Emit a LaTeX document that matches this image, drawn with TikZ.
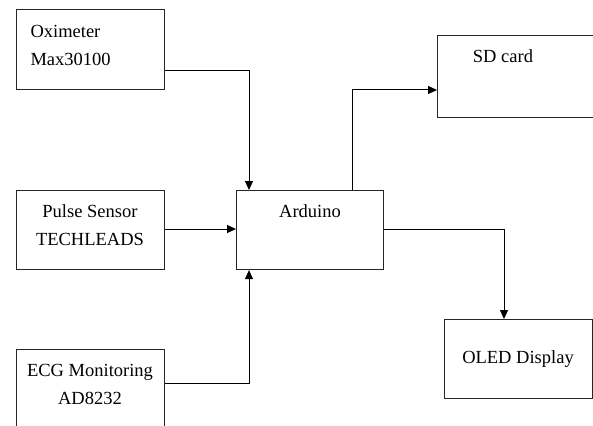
\documentclass[tikz,border=0pt]{standalone}
\usepackage{fontspec}
\setmainfont{Liberation Serif}
\usetikzlibrary{arrows.meta}
\begin{document}
\begin{tikzpicture}[x=1pt,y=-1pt,
  box/.style={draw=black!85,line width=1.1pt,rectangle,inner sep=0pt,anchor=north west},
  txt/.style={font=\fontsize{18.5}{28}\selectfont,align=center},
  conn/.style={line width=1pt,-{Triangle[length=9pt,width=8pt]}}]
\clip (0,0) rectangle (593,425);
\node[box,minimum width=148pt,minimum height=80pt] (oxi) at (16,9) {};
\node[txt,align=left,anchor=west] (oxit) at (27,45) {Oximeter\\Max30100};
\node[box,minimum width=148pt,minimum height=79pt] (pulse) at (16,190) {};
\node[txt] (pulset) at (90,225) {Pulse Sensor\\TECHLEADS};
\node[box,minimum width=148pt,minimum height=80pt] (ecg) at (16,349) {};
\node[txt] (ecgt) at (90,384) {ECG Monitoring\\AD8232};
\node[box,minimum width=147pt,minimum height=79pt] (ard) at (236,190) {};
\node[txt,anchor=center] (ardt) at (310,211) {Arduino};
\node[box,minimum width=160pt,minimum height=82pt] (sd) at (437,35) {};
\node[txt,anchor=center] (sdt) at (503,56) {SD card};
\node[box,minimum width=148pt,minimum height=79pt] (oled) at (444,319) {};
\node[txt] (oledt) at (518,359) {OLED Display};
\draw[conn] (oxi.east |- 0,71) -| (ard.north -| 249,0);
\draw[conn] (pulse.east |- 0,229) -- (ard.west |- 0,229);
\draw[conn] (ecg.east |- 0,383) -| (ard.south -| 249,0);
\draw[conn] (ard.north -| 352,0) |- (sd.west |- 0,90);
\draw[conn] (ard.east |- 0,229) -| (oled.north -| 504,0);
\end{tikzpicture}
\end{document}
